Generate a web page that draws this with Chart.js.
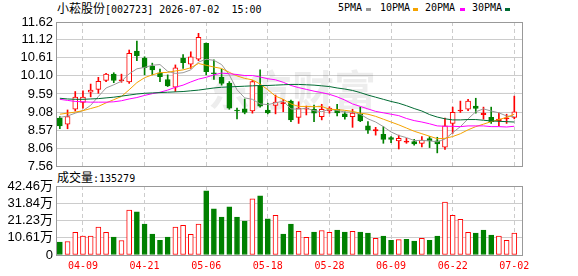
<!DOCTYPE html>
<html>
<head>
<meta charset="utf-8">
<script src="https://cdn.jsdelivr.net/npm/chart.js@4.4.1/dist/chart.umd.min.js"></script>
<style>
  body { margin: 0; width: 578px; height: 276px; background: #fff; position: relative; overflow: hidden; }
  .txt { position: absolute; font-family: "DejaVu Sans Mono", monospace; font-size: 10px; line-height: 14px; color: #000; white-space: pre; }
  .cjk { font-family: "Noto Sans CJK SC", sans-serif; font-size: 12px; }
  .mk { position: absolute; width: 5px; height: 3px; }
  canvas { position: absolute; left: 0; }
</style>
</head>
<body>
<div class="txt" style="left:57px;top:1px"><span class="cjk">小菘股份</span>[002723] 2026-07-02  15:00</div>
<div class="txt" style="left:338px;top:1px">5PMA</div><div class="mk" style="left:366px;top:8px;background:#999"></div>
<div class="txt" style="left:380px;top:1px">10PMA</div><div class="mk" style="left:413px;top:8px;background:#f5a300"></div>
<div class="txt" style="left:425px;top:1px">20PMA</div><div class="mk" style="left:460px;top:8px;background:#ff00ff"></div>
<div class="txt" style="left:472px;top:1px">30PMA</div><div class="mk" style="left:505px;top:8px;background:#006b33"></div>
<div class="txt" style="left:57px;top:170px"><span class="cjk">成交量</span>:135279</div>
<canvas id="kline" width="578" height="184" style="top:0"></canvas>
<canvas id="vol" width="578" height="104" style="top:172px"></canvas>
<script>
// trading days shown
const dates = ['04-03','04-07','04-08','04-09','04-10','04-13','04-14','04-15','04-16','04-17',
  '04-20','04-21','04-22','04-23','04-24','04-27','04-28','04-29','04-30','05-06',
  '05-07','05-08','05-11','05-12','05-13','05-14','05-15','05-18','05-19','05-20',
  '05-21','05-22','05-25','05-26','05-27','05-28','05-29','06-01','06-02','06-03',
  '06-04','06-05','06-08','06-09','06-10','06-11','06-12','06-15','06-16','06-17',
  '06-18','06-22','06-23','06-24','06-25','06-26','06-29','06-30','07-01','07-02'];
const tickDates = ['04-09','04-21','05-06','05-18','05-28','06-09','06-22','07-02'];

// OHLC
const open = [8.91,8.74,9.16,9.35,9.64,9.72,9.97,10.15,9.96,9.93,
  10.80,10.60,10.38,10.19,10.00,9.78,10.60,10.43,10.57,11.02,
  10.18,10.06,9.89,9.14,9.17,9.11,9.82,9.14,9.27,9.32,
  9.39,8.93,9.16,9.16,8.95,9.11,9.16,9.03,8.95,9.02,
  8.69,8.55,8.45,8.36,8.27,8.23,8.25,8.20,8.33,8.27,
  8.09,8.76,9.11,9.16,9.25,9.01,8.93,8.84,8.89,8.93];
const high = [8.95,9.14,9.66,9.68,9.87,10.06,10.17,10.19,10.15,10.83,
  11.08,10.64,10.46,10.29,10.13,10.41,10.70,10.78,11.30,11.03,
  10.55,10.29,9.94,9.19,9.45,9.97,10.27,9.33,9.56,9.44,
  9.42,9.37,9.25,9.28,9.30,9.23,9.30,9.09,9.16,9.22,
  8.81,8.65,8.67,8.39,8.43,8.34,8.31,8.39,8.39,8.37,
  8.91,9.22,9.39,9.44,9.47,9.22,9.22,9.06,9.02,9.53];
const low = [8.61,8.61,9.11,9.19,9.51,9.61,9.94,9.91,9.92,9.89,
  10.53,10.13,10.13,9.94,9.80,9.66,10.31,10.31,10.53,10.13,
  10.00,9.84,9.16,8.89,9.03,9.05,9.22,9.03,9.03,9.09,
  8.81,8.76,9.00,8.81,8.86,9.05,8.97,8.88,8.65,8.81,
  8.48,8.43,8.20,8.22,8.04,8.20,8.15,8.10,8.08,7.93,
  8.03,8.48,9.07,9.12,9.05,8.88,8.76,8.69,8.76,8.89];
const close = [8.69,8.95,9.50,9.50,9.70,9.95,10.15,9.97,9.99,10.74,
  10.67,10.33,10.27,10.08,9.82,10.33,10.47,10.64,11.19,10.22,
  10.16,9.89,9.19,9.11,9.07,9.94,9.25,9.06,9.36,9.33,
  8.86,9.19,9.19,9.05,9.16,9.19,9.06,8.95,9.05,8.83,
  8.57,8.59,8.31,8.31,8.34,8.26,8.18,8.29,8.27,8.18,
  8.69,9.07,9.14,9.39,9.18,9.05,8.81,8.88,8.92,9.09];
const prevClose = 8.75;

// moving averages as drawn
const ma5 = [8.93,8.97,9.05,9.12,9.27,9.52,9.76,9.85,9.95,10.16,
  10.30,10.34,10.40,10.42,10.23,10.17,10.19,10.27,10.49,10.57,
  10.54,10.42,10.13,9.71,9.48,9.44,9.31,9.29,9.34,9.39,
  9.17,9.16,9.19,9.12,9.09,9.16,9.13,9.08,9.08,9.02,
  8.89,8.80,8.67,8.52,8.42,8.36,8.28,8.28,8.27,8.24,
  8.32,8.50,8.67,8.89,9.09,9.17,9.11,9.06,8.97,8.95];
const ma10 = [9.02,9.05,9.08,9.12,9.18,9.24,9.34,9.43,9.52,9.71,
  9.91,10.05,10.13,10.19,10.20,10.24,10.27,10.33,10.45,10.40,
  10.35,10.31,10.20,10.10,10.03,9.99,9.87,9.71,9.53,9.44,
  9.31,9.24,9.24,9.23,9.24,9.16,9.15,9.13,9.10,9.05,
  9.02,8.96,8.88,8.80,8.72,8.63,8.54,8.47,8.40,8.33,
  8.34,8.39,8.47,8.58,8.67,8.74,8.81,8.87,8.93,9.02];
const ma20 = [9.44,9.41,9.38,9.37,9.36,9.36,9.36,9.37,9.40,9.45,
  9.49,9.55,9.60,9.64,9.70,9.78,9.84,9.93,10.01,10.06,
  10.13,10.18,10.16,10.14,10.11,10.11,10.07,10.02,9.99,9.92,
  9.83,9.77,9.72,9.67,9.63,9.58,9.51,9.42,9.31,9.24,
  9.17,9.10,9.06,9.02,8.98,8.90,8.84,8.80,8.75,8.69,
  8.68,8.68,8.67,8.69,8.69,8.69,8.67,8.67,8.66,8.68];
const ma30 = [9.47,9.45,9.44,9.44,9.45,9.46,9.48,9.50,9.53,9.56,
  9.59,9.61,9.62,9.63,9.64,9.65,9.66,9.68,9.70,9.73,
  9.76,9.78,9.79,9.80,9.81,9.82,9.83,9.83,9.84,9.85,
  9.86,9.86,9.85,9.84,9.82,9.80,9.76,9.73,9.69,9.63,
  9.56,9.50,9.44,9.38,9.33,9.26,9.18,9.11,9.01,8.94,
  8.89,8.86,8.86,8.87,8.87,8.85,8.83,8.82,8.81,8.80];

// volume (shares)
const volume = [79000,83000,139000,116000,116000,172000,139000,110000,89000,276000,
  265000,191000,128000,91000,110000,172000,182000,127000,191000,395000,
  284000,234000,296000,234000,209000,346000,364000,222000,244000,128000,
  191000,145000,108000,141000,151000,139000,153000,141000,145000,141000,
  135000,102000,116000,91000,95000,97000,85000,102000,91000,116000,
  325000,244000,220000,139000,135000,153000,122000,116000,91000,135279];

const priceTicks = [7.56, 8.06, 8.57, 9.08, 9.59, 10.10, 10.61, 11.12, 11.62];
const volTicks = [0, 106150, 212300, 318450, 424600];
const volTickLabels = ['0', '10.61万', '21.23万', '31.84万', '42.46万'];

const RED = '#ff0000';
const GREEN = '#008000';
const idx = dates.map((d, i) => i);
const up = close.map((c, i) => c >= open[i]);
const volUp = close.map((c, i) => {
    const p = i ? close[i - 1] : prevClose;
    return c > p || (c === p && up[i]);
});
const xTickIdx = tickDates.map(d => dates.indexOf(d));

// box round the plot area
const frame = {
    id: 'frame',
    afterDraw(chart) {
        const a = chart.chartArea, ctx = chart.ctx;
        ctx.save();
        ctx.strokeStyle = '#999';
        ctx.lineWidth = 1;
        ctx.strokeRect(Math.round(a.left) + 0.5, Math.round(a.top) + 0.5,
            Math.round(a.right - a.left), Math.round(a.bottom - a.top));
        ctx.restore();
    }
};

const watermark = {
    id: 'watermark',
    beforeDatasetsDraw(chart) {
        const ctx = chart.ctx;
        ctx.save();
        ctx.fillStyle = 'rgba(0,0,0,0.07)';
        ctx.font = 'bold 42px "Noto Sans CJK SC"';
        ctx.textAlign = 'center';
        ctx.textBaseline = 'middle';
        ctx.fillText('东方财富', 292, 90);
        ctx.restore();
    }
};

// nudge the layout padding so the plot box lands where the reference has it
function pinArea(chart, top, bottom) {
    const pad = chart.options.layout.padding;
    pad.top += top - chart.chartArea.top;
    pad.bottom += chart.chartArea.bottom - bottom;
    chart.update();
}

function xAxis(showLabels) {
    return {
        type: 'linear',
        min: -0.5,
        max: 60,
        offset: false,
        afterBuildTicks: s => { s.ticks = xTickIdx.map(v => ({ value: v })); },
        afterFit: s => { s.height = showLabels ? 21 : 0; },
        grid: { color: '#ccc', drawTicks: false, offset: false },
        border: { display: false, dash: [4, 3] },
        ticks: {
            display: showLabels,
            autoSkip: false,
            maxRotation: 0,
            padding: 5,
            color: RED,
            font: { family: 'DejaVu Sans Mono', size: 10 },
            callback: v => dates[v]
        }
    };
}

const common = {
    responsive: false,
    animation: false,
    devicePixelRatio: 1,
    plugins: { legend: { display: false }, tooltip: { enabled: false } }
};

const kline = new Chart(document.getElementById('kline'), {
    type: 'bar',
    data: {
        datasets: [
            {
                data: idx.map(i => ({ x: i, y: [low[i], high[i]] })),
                backgroundColor: idx.map(i => up[i] ? RED : GREEN),
                barThickness: 1,
                grouped: false,
                order: 3
            },
            {
                data: idx.map(i => ({ x: i, y: [open[i], close[i]] })),
                backgroundColor: idx.map(i => !up[i] ? GREEN : (close[i] - open[i] < 0.05 ? RED : '#fff')),
                borderColor: idx.map(i => up[i] ? RED : GREEN),
                borderWidth: 1,
                borderSkipped: false,
                barThickness: 5,
                minBarLength: 1,
                grouped: false,
                order: 2
            },
            { type: 'line', data: idx.map(i => ({ x: i, y: ma30[i] })), borderColor: '#006b33', borderWidth: 1, pointRadius: 0, order: 1 },
            { type: 'line', data: idx.map(i => ({ x: i, y: ma20[i] })), borderColor: '#ff00ff', borderWidth: 1, pointRadius: 0, order: 1 },
            { type: 'line', data: idx.map(i => ({ x: i, y: ma10[i] })), borderColor: '#f5a300', borderWidth: 1, pointRadius: 0, order: 1 },
            { type: 'line', data: idx.map(i => ({ x: i, y: ma5[i] })), borderColor: '#9a9a9a', borderWidth: 1, pointRadius: 0, order: 1 }
        ]
    },
    options: {
        ...common,
        layout: { padding: { top: 22, right: 56, bottom: 18, left: 0 } },
        scales: {
            x: xAxis(false),
            y: {
                min: 7.56,
                max: 11.62,
                afterBuildTicks: s => { s.ticks = priceTicks.map(v => ({ value: v })); },
                afterFit: s => { s.width = 56; },
                grid: { color: '#ccc', drawTicks: false },
                border: { display: false },
                ticks: {
                    autoSkip: false,
                    padding: 3,
                    color: '#000',
                    font: { family: 'Liberation Sans', size: 13 },
                    callback: v => v.toFixed(2)
                }
            }
        }
    },
    plugins: [watermark, frame]
});
pinArea(kline, 22, 166);

const vol = new Chart(document.getElementById('vol'), {
    type: 'bar',
    data: {
        datasets: [{
            data: idx.map(i => ({ x: i, y: volume[i] })),
            backgroundColor: idx.map(i => volUp[i] ? '#fff' : GREEN),
            borderColor: idx.map(i => volUp[i] ? RED : GREEN),
            borderWidth: 1,
            borderSkipped: false,
            barThickness: 5,
            grouped: false
        }]
    },
    options: {
        ...common,
        layout: { padding: { top: 14, right: 56, bottom: 0, left: 0 } },
        scales: {
            x: xAxis(true),
            y: {
                min: 0,
                max: 424600,
                afterBuildTicks: s => { s.ticks = volTicks.map(v => ({ value: v })); },
                afterFit: s => { s.width = 56; },
                grid: { color: '#ccc', drawTicks: false },
                border: { display: false },
                ticks: {
                    autoSkip: false,
                    padding: 3,
                    color: '#000',
                    font: { family: "'Liberation Sans', 'Noto Sans CJK SC'", size: 13 },
                    callback: v => volTickLabels[volTicks.indexOf(v)]
                }
            }
        }
    },
    plugins: [frame]
});
pinArea(vol, 14, 83);
</script>
</body>
</html>
